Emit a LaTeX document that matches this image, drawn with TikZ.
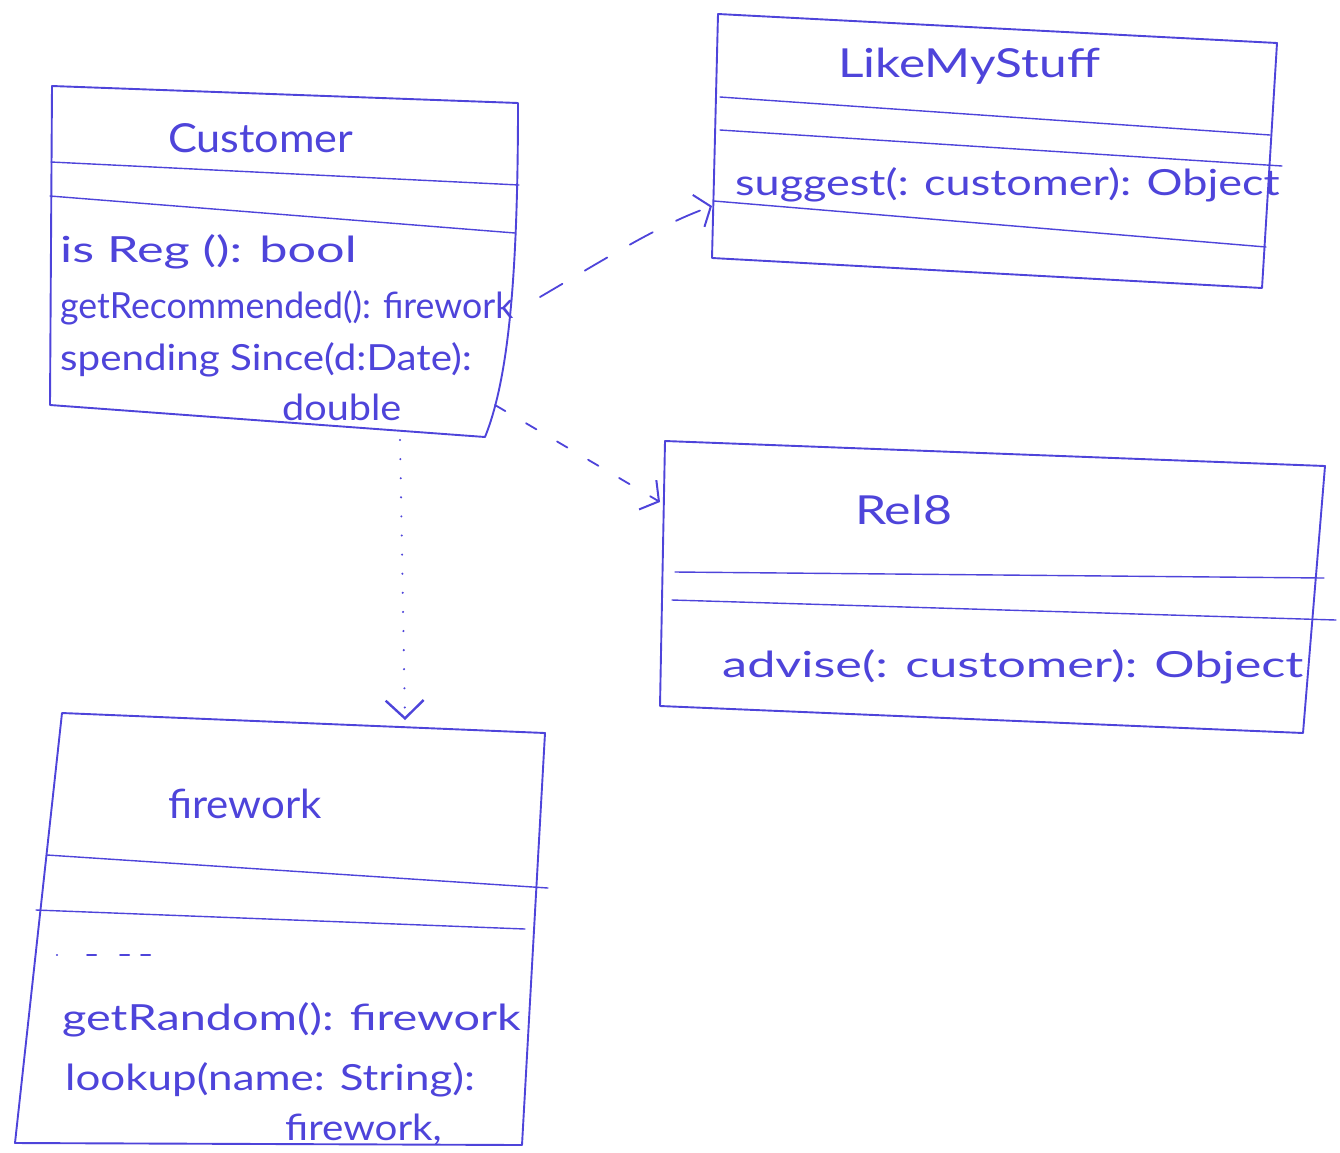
\documentclass[tikz,border=0pt]{standalone}
\usepackage{graphicx}
\usepackage{fontspec}
\setmainfont{Lato}
\usetikzlibrary{arrows.meta}
\definecolor{ink}{RGB}{78,68,218}
% stretch a line of text horizontally only
\newcommand\hs[2]{\scalebox{#1}[1]{#2}}
\begin{document}
\begin{tikzpicture}[x=1pt,y=-1pt,
  outline/.style={draw=ink, line width=1.9pt, line join=round, line cap=round},
  rule/.style={draw=ink, line width=1.4pt, line cap=round},
  txt/.style={text=ink, inner sep=0pt, anchor=base west, font=\fontsize{36}{40}\selectfont},
  ttl/.style={txt, font=\fontsize{40}{44}\selectfont},
  dep/.style={draw=ink, line width=1.8pt, line cap=round, dash pattern=on 26pt off 26pt,
    -{Straight Barb[length=13pt, width=34pt, line width=2pt]}},
  dep2/.style={draw=ink, line width=1.8pt, line cap=round, dash pattern=on 12pt off 24pt,
    -{Straight Barb[length=13pt, width=34pt, line width=2pt]}},
  dots/.style={draw=ink, line width=2.2pt, line cap=round, dash pattern=on 0.1pt off 19pt,
    -{Straight Barb[length=18pt, width=38pt, line width=2.4pt]}},
]
\useasboundingbox (0,0) rectangle (1340,1152);

% ---------- Customer ----------
\coordinate (cu-nw) at (52,86);
\coordinate (cu-ne) at (518,103);
\coordinate (cu-se) at (485,437);
\coordinate (cu-sw) at (50,405);
\draw[outline] (cu-nw) -- (cu-ne) .. controls (518,280) and (508,380) .. (cu-se) -- (cu-sw) -- cycle;
\draw[rule] (51,162) -- (519,185);
\draw[rule] (50,196) -- (515,233);
\node[ttl] (cu-title) at (168,152) {\hs{1.08}{Customer}};
\node[txt] (cu-m1) at (60,262) {\hs{1.4}{is Reg (): bool}};
\node[txt] (cu-m2) at (60,318) {\hs{0.99}{getRecommended(): firework}};
\node[txt] (cu-m3) at (60,370) {\hs{1.12}{spending Since(d:Date):}};
\node[txt] (cu-m4) at (282,420) {\hs{1.1}{double}};

% ---------- LikeMyStuff ----------
\coordinate (lm-nw) at (718,14);
\coordinate (lm-ne) at (1277,43);
\coordinate (lm-se) at (1262,288);
\coordinate (lm-sw) at (712,258);
\draw[outline] (lm-nw) -- (lm-ne) -- (lm-se) -- (lm-sw) -- cycle;
\draw[rule] (720,97) -- (1270,135);
\draw[rule] (720,130) -- (1282,166);
\draw[rule] (714,201) -- (1266,247);
\node[ttl] (lm-title) at (838,77) {\hs{1.24}{LikeMyStuff}};
\node[txt] (lm-m1) at (735,195) {\hs{1.25}{suggest(: customer): Object}};

% ---------- Rel8 ----------
\coordinate (re-nw) at (665,441);
\coordinate (re-ne) at (1325,466);
\coordinate (re-se) at (1303,733);
\coordinate (re-sw) at (660,706);
\draw[outline] (re-nw) -- (re-ne) -- (re-se) -- (re-sw) -- cycle;
\draw[rule] (675,572) -- (1324,578);
\draw[rule] (672,600) -- (1336,620);
\node[ttl] (re-title) at (855,524) {\hs{1.25}{Rel8}};
\node[txt] (re-m1) at (722,677) {\hs{1.4}{advise(: customer): Object}};

% ---------- firework ----------
\coordinate (fw-nw) at (62,713);
\coordinate (fw-ne) at (545,733);
\coordinate (fw-se) at (522,1145);
\coordinate (fw-sw) at (15,1143);
\draw[outline] (fw-nw) -- (fw-ne) -- (fw-se) -- (fw-sw) -- cycle;
\draw[rule] (47,855) -- (548,888);
\draw[rule] (36,910) -- (525,929);
\node[ttl] (fw-title) at (168,818) {\hs{1.05}{firework}};
\draw[ink, line width=2.2pt, line cap=round, dash pattern=on 0.1pt off 30pt on 9pt off 24pt on 9pt off 12pt on 9pt off 100pt]
  (57,955) -- (165,955);
\node[txt] (fw-m1) at (62,1030) {\hs{1.3}{getRandom(): firework}};
\node[txt] (fw-m2) at (65,1090) {\hs{1.22}{lookup(name: String):}};
\node[txt] (fw-m3) at (285,1140) {\hs{1.12}{firework,}};

% ---------- dependencies ----------
\coordinate (cu-e1) at (540,297);
\coordinate (lm-w)  at (712,206);
\coordinate (cu-e2) at (495,405);
\coordinate (re-w)  at (660,502);
\coordinate (cu-s)  at (400,440);
\coordinate (fw-n)  at (405,720);
\draw[dep]  (cu-e1) .. controls (620,250) and (660,225) .. (lm-w);
\draw[dep2] (cu-e2) -- (re-w);
\draw[dots] (cu-s) -- (fw-n);
\end{tikzpicture}
\end{document}
